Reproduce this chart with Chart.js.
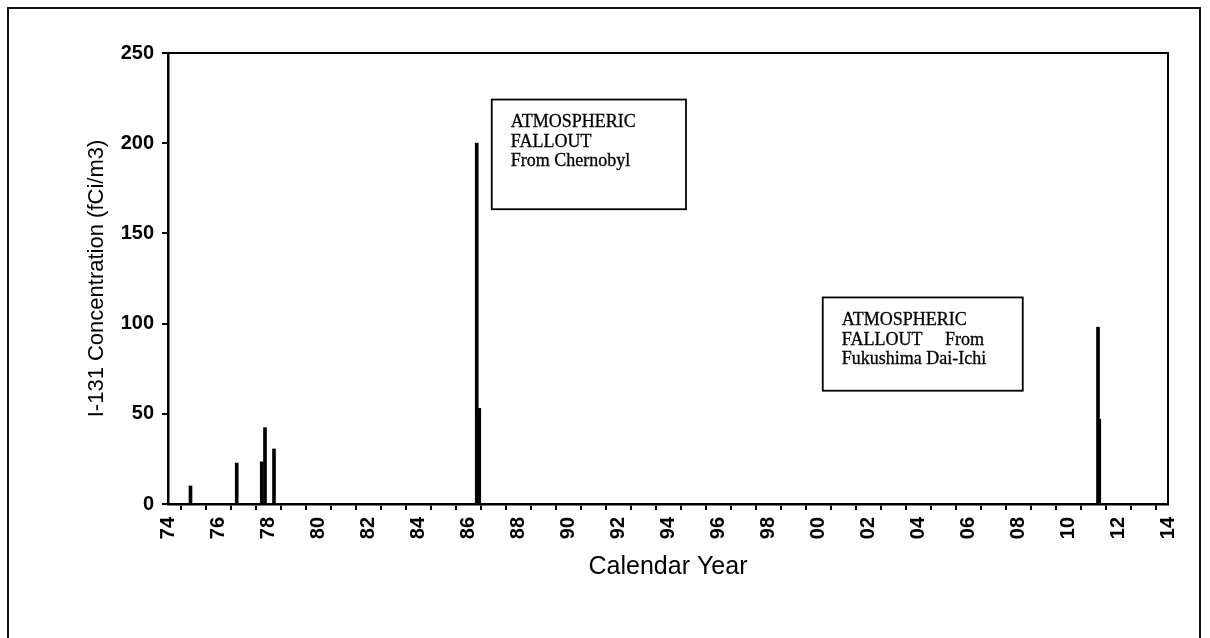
<!DOCTYPE html>
<html>
<head>
<meta charset="utf-8">
<title>I-131 Concentration</title>
<script src="https://cdn.jsdelivr.net/npm/chart.js@4/dist/chart.umd.min.js"></script>
<style>
  html, body { margin: 0; padding: 0; background: #fff; }
  #wrap { position: relative; width: 1210px; height: 638px; overflow: hidden; background: #fff; }
  #frame { position: absolute; left: 7px; top: 7px; width: 1194px; height: 700px; border: 2px solid #111; box-sizing: border-box; }
  #c { position: absolute; left: 0; top: 0; }
</style>
</head>
<body>
<div id="wrap">
  <div id="frame"></div>
  <canvas id="c" width="1210" height="638"></canvas>
</div>
<script>
// Sampling dates as years since 1900 (74 = 1974 ... 111 = 2011)
const sampleYears = [74.9, 76.75, 77.75, 77.88, 78.24, 86.35, 86.45, 111.2, 111.25];
// I-131 concentration in fCi/m3
const concentrations = [10, 22.7, 23.4, 42.3, 30.5, 200, 53, 98, 47];
// Labels for the even-year ticks, 1974 through 2014
const yearLabels = ['74','76','78','80','82','84','86','88','90','92','94','96','98','00','02','04','06','08','10','12','14'];
const yTicks = [0, 50, 100, 150, 200, 250];

// Boxed notes, placed in chart (year, concentration) coordinates
const notes = [
  { x0: 86.95, x1: 94.72, yTop: 224.2, yBottom: 163.4, lines: ['ATMOSPHERIC', 'FALLOUT', 'From Chernobyl'] },
  { x0: 100.19, x1: 108.19, yTop: 114.5, yBottom: 62.8, lines: ['ATMOSPHERIC', 'FALLOUT     From', 'Fukushima Dai-Ichi'] }
];

const points = sampleYears.map((x, i) => ({ x: x, y: concentrations[i] }));

// Closes the plot frame (top and right edges) and draws the boxed notes
const framePlugin = {
  id: 'plotFrame',
  afterDraw(chart) {
    const { ctx, chartArea: a, scales } = chart;
    ctx.save();
    ctx.strokeStyle = '#000';
    ctx.lineWidth = 2;
    ctx.beginPath();
    ctx.moveTo(a.left, a.top);
    ctx.lineTo(a.right, a.top);
    ctx.lineTo(a.right, a.bottom);
    ctx.stroke();

    ctx.font = '18px "Liberation Serif", "Times New Roman", serif';
    ctx.fillStyle = '#000';
    ctx.textBaseline = 'middle';
    ctx.textAlign = 'left';
    notes.forEach(n => {
      const l = scales.x.getPixelForValue(n.x0);
      const r = scales.x.getPixelForValue(n.x1);
      const t = scales.y.getPixelForValue(n.yTop);
      const b = scales.y.getPixelForValue(n.yBottom);
      ctx.lineWidth = 1.8;
      ctx.strokeRect(l, t, r - l, b - t);
      ctx.lineWidth = 0.3;
      n.lines.forEach((s, k) => {
        const ty = t + 23 + k * 19.5;
        ctx.fillText(s, l + 19, ty);
        ctx.strokeText(s, l + 19, ty);
      });
    });
    ctx.restore();
  }
};

new Chart(document.getElementById('c'), {
  type: 'bar',
  data: {
    datasets: [{
      data: points,
      backgroundColor: '#000',
      borderWidth: 0,
      barThickness: 3
    }]
  },
  options: {
    responsive: false,
    animation: false,
    events: [],
    layout: { padding: { left: 84, right: 42, top: 53, bottom: 56 } },
    plugins: { legend: { display: false }, tooltip: { enabled: false } },
    scales: {
      x: {
        type: 'linear',
        min: 74,
        max: 114,
        offset: false,
        afterFit(scale) { scale.height = 78; },
        border: { display: true, color: '#000', width: 2.5 },
        grid: { drawOnChartArea: false, drawTicks: true, tickLength: 6, color: '#000', lineWidth: 2 },
        ticks: {
          stepSize: 1,
          autoSkip: false,
          minRotation: 90,
          maxRotation: 90,
          padding: 7,
          color: '#000',
          font: { family: '"Liberation Sans", Arial, sans-serif', size: 20, weight: 'bold' },
          callback(v) {
            const k = Math.round(v - 74);
            return k % 2 === 0 ? yearLabels[k / 2] : '';
          }
        },
        title: {
          display: true,
          text: 'Calendar Year',
          color: '#000',
          padding: 0,
          font: { family: '"Liberation Sans", Arial, sans-serif', size: 25 }
        }
      },
      y: {
        min: 0,
        max: 250,
        afterFit(scale) { scale.width = 84; },
        afterBuildTicks(scale) { scale.ticks = yTicks.map(v => ({ value: v })); },
        border: { display: true, color: '#000', width: 2.5 },
        grid: { drawOnChartArea: false, drawTicks: true, tickLength: 6, color: '#000', lineWidth: 2 },
        ticks: {
          padding: 8,
          color: '#000',
          font: { family: '"Liberation Sans", Arial, sans-serif', size: 20, weight: 'bold' }
        },
        title: {
          display: true,
          text: 'I-131 Concentration (fCi/m3)',
          color: '#000',
          padding: 0,
          font: { family: '"Liberation Sans", Arial, sans-serif', size: 22 }
        }
      }
    }
  },
  plugins: [framePlugin]
});
</script>
</body>
</html>
